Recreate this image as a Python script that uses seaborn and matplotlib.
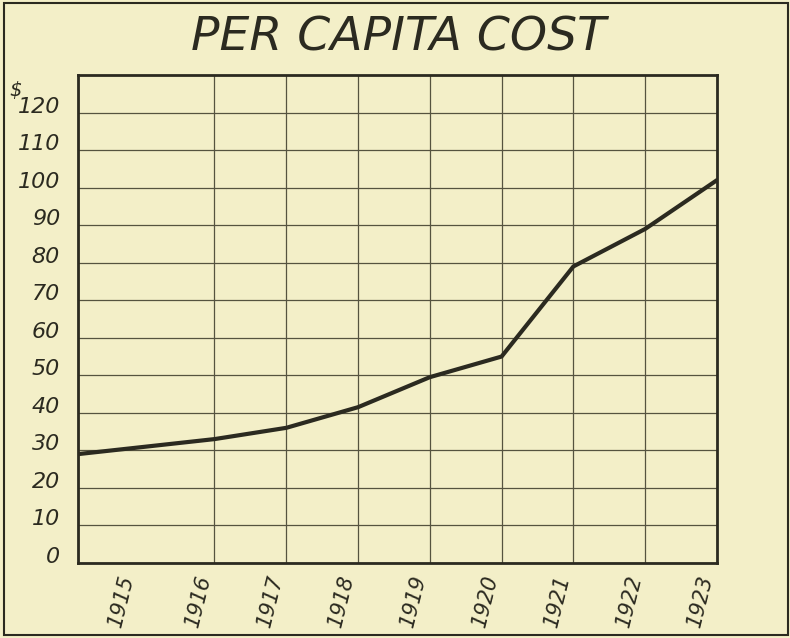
import numpy as np
import pandas as pd
import matplotlib
matplotlib.use("Agg")
import matplotlib.pyplot as plt
import matplotlib.transforms as mtransforms
import seaborn as sns

# per capita cost
years = [1915, 1916, 1917, 1918, 1919, 1920, 1921, 1922, 1923]
cost = [29, 33, 36, 41.5, 49.5, 55, 79, 89, 102]
y_ticks = list(range(0, 130, 10))

df = pd.DataFrame({"Year": years, "Cost": cost})

paper = "#f3efc8"
ink = "#2b2a20"

sns.set_theme(style="white")
plt.rcParams["font.family"] = ["DejaVu Sans"]


# the first year gets a wider column on the original chart
def fwd(x):
    x = np.asarray(x, dtype=float)
    return np.where(x < 1916, 1916 - (1916 - x) * 1.9, x)


def inv(x):
    x = np.asarray(x, dtype=float)
    return np.where(x < 1916, 1916 - (1916 - x) / 1.9, x)


fig = plt.figure(figsize=(7.9, 6.38), dpi=100, facecolor=paper)
ax = fig.add_axes([0.0987, 0.1176, 0.8089, 0.7648])
ax.set_facecolor(paper)

sns.lineplot(data=df, x="Year", y="Cost", color=ink, linewidth=3, ax=ax)

ax.set_xscale("function", functions=(fwd, inv))
ax.set_xlim(1915, 1923)
ax.set_ylim(0, 130)
ax.set_xticks(years)
ax.set_yticks(y_ticks)
ax.set_xticklabels([str(y) for y in years], rotation=76, ha="right", va="top",
                   fontsize=15, style="italic", color=ink)
ax.set_yticklabels([str(v) for v in y_ticks], fontsize=16, style="italic", color=ink)
ax.tick_params(axis="both", length=0)
ax.tick_params(axis="x", pad=7)
ax.tick_params(axis="y", pad=13)
ax.set_xlabel("")
ax.set_ylabel("")

ax.grid(True, color="#55533f", linewidth=0.9)
for s in ax.spines.values():
    s.set_color(ink)
    s.set_linewidth(2)
    s.set_visible(True)

# lettering on the original sits a little above each rule
up = mtransforms.ScaledTranslation(0, 0.08, fig.dpi_scale_trans)
for lab in ax.get_yticklabels():
    lab.set_transform(lab.get_transform() + up)
first = ax.get_xticklabels()[0]
first.set_transform(first.get_transform() + mtransforms.ScaledTranslation(0.6, 0, fig.dpi_scale_trans))

fig.text(0.012, 0.85, "$", fontsize=14, color=ink, style="italic")
fig.text(0.505, 0.94, "PER CAPITA COST", fontsize=34, style="italic", color=ink,
         ha="center", va="center")

# outer frame of the plate
fig.patches.append(plt.Rectangle((0.005, 0.004), 0.993, 0.992, transform=fig.transFigure,
                                 fill=False, edgecolor=ink, linewidth=1.5))

fig.savefig("out.png", dpi=100, facecolor=paper)
